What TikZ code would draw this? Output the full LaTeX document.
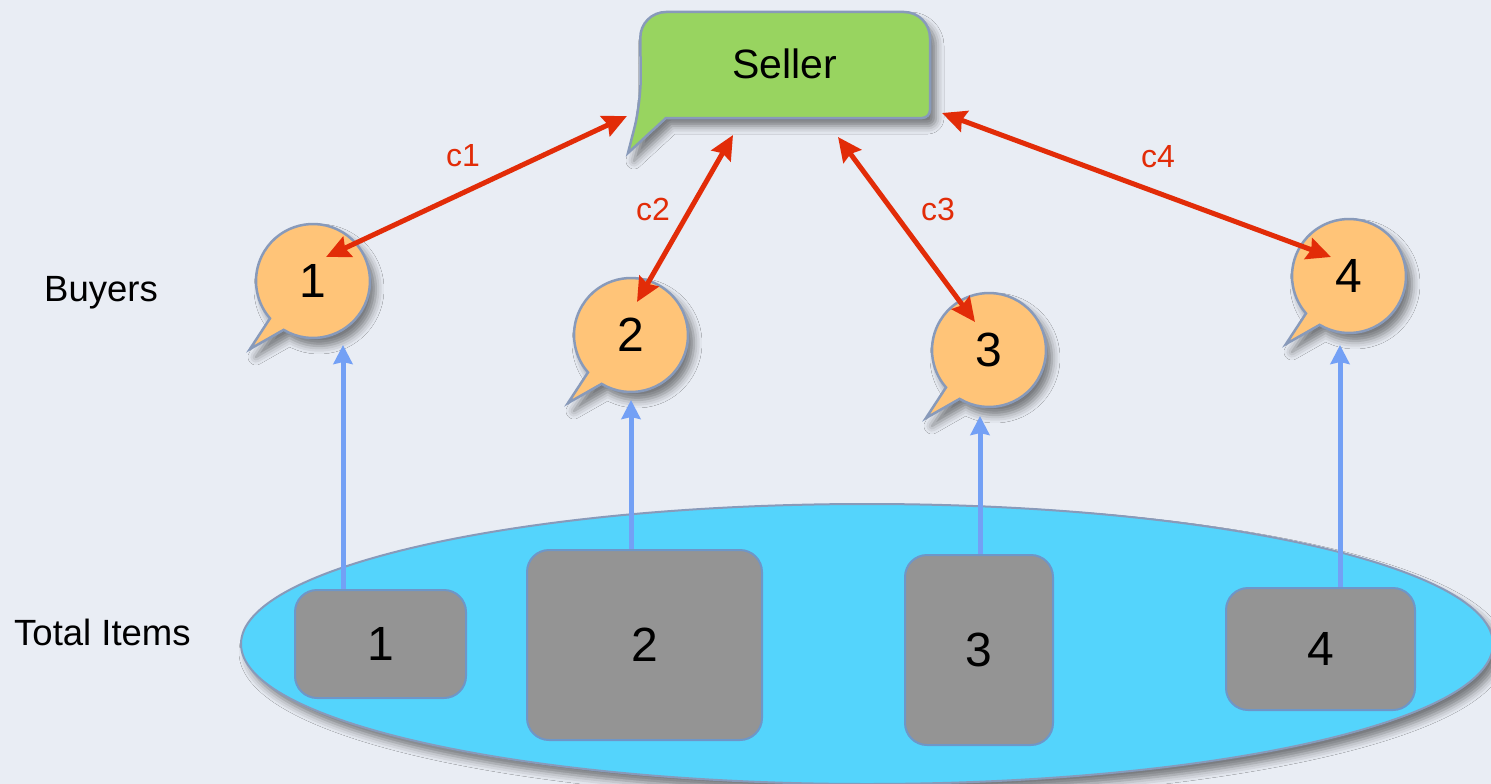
\documentclass[tikz,border=0pt]{standalone}
\usepackage{fontspec}
\setmainfont{Liberation Sans}
\usetikzlibrary{arrows.meta,shadows.blur,calc,shapes.geometric}

\definecolor{paper}{RGB}{233,237,244}
\definecolor{outline}{RGB}{136,154,186}
\definecolor{sellergreen}{RGB}{152,212,96}
\definecolor{buyerorange}{RGB}{255,196,120}
\definecolor{poolcyan}{RGB}{84,212,252}
\definecolor{itemgray}{RGB}{148,148,148}
\definecolor{itemedge}{RGB}{110,150,200}
\definecolor{linkred}{RGB}{226,44,8}
\definecolor{flowblue}{RGB}{115,160,245}

\tikzset{
  softshadow/.style={blur shadow={shadow xshift=6pt, shadow yshift=-8pt,
      shadow blur radius=8pt, shadow opacity=50}},
  bubble/.style={fill=buyerorange, draw=outline, line width=2.5pt, softshadow},
  sellerbox/.style={fill=sellergreen, draw=outline, line width=2.5pt, softshadow},
  pool/.style={ellipse, minimum width=1252pt, minimum height=280pt, inner sep=0pt,
      fill=poolcyan, draw=outline, line width=2pt, softshadow},
  item/.style={rectangle, rounded corners=22pt, fill=itemgray, draw=itemedge,
      line width=2pt, font=\fontsize{48}{56}\selectfont},
  digit/.style={font=\fontsize{48}{56}\selectfont},
  rowlabel/.style={font=\fontsize{36.5}{42}\selectfont, anchor=base west, inner sep=0pt},
  linklabel/.style={font=\fontsize{32}{38}\selectfont, text=linkred},
  link/.style={draw=linkred, line width=5pt,
      {Stealth[length=24pt,width=22pt,inset=3pt]}-{Stealth[length=24pt,width=22pt,inset=3pt]}},
  flow/.style={draw=flowblue, line width=5pt,
      -{Stealth[length=19pt,width=19pt,inset=2pt]}},
}

\begin{document}
\begin{tikzpicture}[x=1pt,y=-1pt]
  % paper background and frame
  \fill[paper] (0,0) rectangle (1491,784);
  \useasboundingbox (0,0) rectangle (1491,784);
  \clip (0,0) rectangle (1491,784);

  % pool of items
  \node[pool] (pool) at (867,644) {};
  \node[item, minimum width=171pt, minimum height=108pt] (i1) at (380.5,644) {1};
  \node[item, minimum width=235pt, minimum height=190pt] (i2) at (644.5,645) {2};
  \node[item, minimum width=148pt, minimum height=190pt] (i3) at (979,650) {3};
  \node[item, minimum width=189pt, minimum height=122pt] (i4) at (1320.5,649) {4};

  % buyer bubble centres
  \coordinate (pb1) at (313,281);
  \coordinate (pb2) at (631,335);
  \coordinate (pb3) at (989,350);
  \coordinate (pb4) at (1349,276);

  % speech bubbles of the buyers (circle with a tail to the lower left)
  \foreach \c in {pb1,pb2,pb3,pb4} {
    \path[bubble] ($(\c)+(139:57)$) -- ($(\c)+(-63,68)$) -- ($(\c)+(121:57)$)
      arc[start angle=121, end angle=-221, radius=57] -- cycle;
  }
  \node[digit] (b1) at (pb1) {1};
  \node[digit] (b2) at (pb2) {2};
  \node[digit] (b3) at (pb3) {3};
  \node[digit] (b4) at (pb4) {4};

  % seller speech box
  \path[sellerbox] (628,153) -- (666,118) [rounded corners=8pt] -- (930,118)
    [rounded corners=26pt] -- (930,12) -- (640,12) -- (641,102) [sharp corners] -- cycle;
  \node[font=\fontsize{41}{48}\selectfont] (seller) at (785,64) {Seller};

  % arrow ends
  \coordinate (a1) at (343,345);
  \coordinate (a2) at (631,400);
  \coordinate (a3) at (980,416);
  \coordinate (a4) at (1340,345);
  \coordinate (s1) at (627,116);
  \coordinate (s2) at (733,135);
  \coordinate (s3) at (838,137);
  \coordinate (s4) at (942,113);
  \coordinate (e1) at (326,257);
  \coordinate (e2) at (637,302);
  \coordinate (e3) at (975,322);
  \coordinate (e4) at (1331,257);

  % items handed up to the buyers
  \draw[flow] (a1 |- i1.north) -- (a1);
  \draw[flow] (a2 |- i2.north) -- (a2);
  \draw[flow] (a3 |- i3.north) -- (a3);
  \draw[flow] (a4 |- i4.north) -- (a4);

  % seller-buyer links
  \draw[link] (e1) -- (s1);
  \draw[link] (e2) -- (s2);
  \draw[link] (e3) -- (s3);
  \draw[link] (e4) -- (s4);
  \node[linklabel] (c1) at (463,156) {c1};
  \node[linklabel] (c2) at (653,209) {c2};
  \node[linklabel] (c3) at (938,209) {c3};
  \node[linklabel] (c4) at (1158,157) {c4};

  % row labels
  \node[rowlabel] (buyers) at (44,301) {Buyers};
  \node[rowlabel] (total) at (14,645) {Total Items};
\end{tikzpicture}
\end{document}
